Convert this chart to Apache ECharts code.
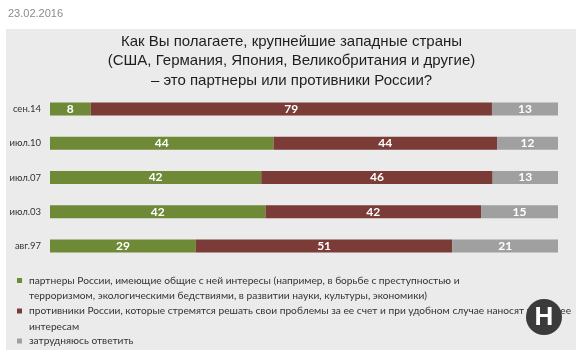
<!DOCTYPE html>
<html>
<head>
<meta charset="utf-8">
<script src="https://cdn.jsdelivr.net/npm/echarts@6/dist/echarts.min.js"></script>
<style>
html,body{margin:0;padding:0;background:#fff;}
#c{width:583px;height:356px;}
</style>
</head>
<body>
<div id="c"></div>
<script>
// ---- data ----
const categories = ['сен.14', 'июл.10', 'июл.07', 'июл.03', 'авг.97'];
const partners = [8, 44, 42, 42, 29];
const opponents = [79, 44, 46, 42, 51];
const undecided = [13, 12, 13, 15, 21];
const seriesNames = [
  'партнеры России, имеющие общие с ней интересы (например, в борьбе с преступностью и\nтерроризмом, экологическими бедствиями, в развитии науки, культуры, экономики)',
  'противники России, которые стремятся решать свои проблемы за ее счет и при удобном случае наносят ущерб ее\nинтересам',
  'затрудняюсь ответить'
];
const titleLines = [
  'Как Вы полагаете, крупнейшие западные страны',
  '(США, Германия, Япония, Великобритания и другие)',
  '– это партнеры или противники России?'
];
const dateText = '23.02.2016';

// 100% stacked: shares of each row's total
const rawSeries = [partners, opponents, undecided];
const totals = categories.map((_, i) => partners[i] + opponents[i] + undecided[i]);
const colors = ['#6f8a37', '#7b3b36', '#a0a0a0'];

const chart = echarts.init(document.getElementById('c'), null, {renderer: 'canvas'});
const LH = 15.5;
const FONT = 'Lato';

const series = rawSeries.map((arr, k) => ({
  name: seriesNames[k],
  type: 'bar',
  stack: 'total',
  barWidth: 13,
  itemStyle: {color: colors[k]},
  label: {
    show: true,
    position: 'inside',
    color: '#fff',
    fontFamily: FONT,
    fontSize: 12,
    fontWeight: 'bold',
    formatter: p => String(arr[p.dataIndex])
  },
  data: arr.map((v, i) => v / totals[i] * 100)
}));

function legendFor(k, centerY, lines) {
  return {
    show: true,
    orient: 'vertical',
    left: 17,
    top: centerY - (lines > 1 ? 1.5 : 0.5) * LH,
    padding: 0,
    itemWidth: 5,
    itemHeight: 5,
    icon: 'rect',
    selectedMode: false,
    // a leading empty line puts the first real line level with the marker
    formatter: name => (lines > 1 ? '\n' : '') + name,
    data: [{
      name: seriesNames[k],
      itemStyle: {color: colors[k]}
    }],
    textStyle: {
      fontFamily: FONT,
      fontSize: 10.2,
      color: '#333',
      lineHeight: LH,
      padding: [0, 0, 0, 2]
    }
  };
}

chart.setOption({
  backgroundColor: '#ffffff',
  animation: false,
  title: [{
    text: dateText,
    left: 8,
    top: 8,
    padding: 0,
    textStyle: {fontFamily: 'Liberation Sans', fontSize: 11, fontWeight: 'normal', color: '#8a8a8a'}
  }].concat(titleLines.map((t, i) => ({
    text: t,
    left: 'center',
    top: 32.5 + i * 19.2,
    padding: 0,
    textStyle: {fontFamily: 'Liberation Sans', fontSize: 15, fontWeight: 'normal', color: '#1e1e1e', lineHeight: 19}
  }))),
  graphic: [{
    type: 'rect',
    z: -10,
    silent: true,
    shape: {x: 6, y: 29, width: 570, height: 321},
    style: {fill: '#ebebeb'}
  }, {
    type: 'circle',
    z: 100,
    silent: true,
    shape: {cx: 544, cy: 317, r: 18},
    style: {fill: '#3b3b3b'}
  }, {
    type: 'text',
    z: 101,
    silent: true,
    x: 544, y: 318,
    style: {text: 'H', fill: '#fff', fontFamily: 'Liberation Sans', fontWeight: 'bold', fontSize: 26, align: 'center', verticalAlign: 'middle'}
  }],
  legend: [
    legendFor(0, 280.5, 2),
    legendFor(1, 311, 2),
    legendFor(2, 341, 1)
  ],
  grid: {left: 50, width: 508, top: 92, height: 171, containLabel: false},
  xAxis: {
    type: 'value', min: 0, max: 100, show: false
  },
  yAxis: {
    type: 'category',
    data: categories,
    inverse: true,
    axisLine: {show: false},
    axisTick: {show: false},
    axisLabel: {margin: 9, fontFamily: FONT, fontSize: 9.5, color: '#333'}
  },
  series: series
});
</script>
</body>
</html>
